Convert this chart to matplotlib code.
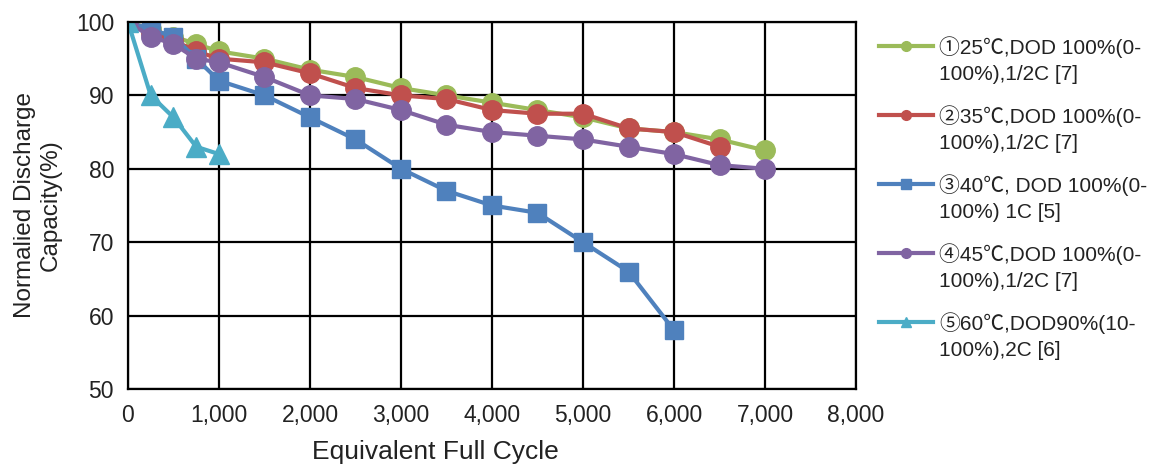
import numpy as np
import matplotlib
matplotlib.use('agg')
import matplotlib.pyplot as plt
from matplotlib.ticker import FuncFormatter, MultipleLocator
from matplotlib.legend_handler import HandlerLine2D

plt.rcParams['font.family'] = ['Liberation Sans', 'Noto Sans CJK SC', 'DejaVu Sans']

# data
x1 = [0, 250, 500, 750, 1000, 1500, 2000, 2500, 3000, 3500, 4000, 4500, 5000, 5500, 6000, 6500, 7000]
y1 = [100, 99, 98, 97, 96, 95, 93.5, 92.5, 91, 90, 89, 88, 87, 85.5, 85, 84, 82.5]

x2 = [0, 250, 500, 750, 1000, 1500, 2000, 2500, 3000, 3500, 4000, 4500, 5000, 5500, 6000, 6500]
y2 = [100, 98.5, 97.5, 96, 95, 94.5, 93, 91, 90, 89.5, 88, 87.5, 87.5, 85.5, 85, 83]

x3 = [0, 250, 500, 750, 1000, 1500, 2000, 2500, 3000, 3500, 4000, 4500, 5000, 5500, 6000]
y3 = [100, 99, 98, 95, 92, 90, 87, 84, 80, 77, 75, 74, 70, 66, 58]

x4 = [0, 250, 500, 750, 1000, 1500, 2000, 2500, 3000, 3500, 4000, 4500, 5000, 5500, 6000, 6500, 7000]
y4 = [100, 98, 97, 95, 94.5, 92.5, 90, 89.5, 88, 86, 85, 84.5, 84, 83, 82, 80.5, 80]

x5 = [0, 250, 500, 750, 1000]
y5 = [100, 90, 87, 83, 82]

labels = [
    '①25℃,DOD 100%(0-\n100%),1/2C [7]',
    '②35℃,DOD 100%(0-\n100%),1/2C [7]',
    '③40℃, DOD 100%(0-\n100%) 1C [5]',
    '④45℃,DOD 100%(0-\n100%),1/2C [7]',
    '⑤60℃,DOD90%(10-\n100%),2C [6]',
]


# legend handle sits level with the first text line, not the middle
class TopLineHandler(HandlerLine2D):
    def create_artists(self, legend, orig_handle, xdescent, ydescent,
                       width, height, fontsize, trans):
        arts = super().create_artists(legend, orig_handle, xdescent, ydescent,
                                      width, height, fontsize, trans)
        for a in arts:
            a.set_ydata(np.asarray(a.get_ydata()) + 10.5)
        return arts


fig = plt.figure(figsize=(11.56, 4.67), dpi=100)
ax = fig.add_axes([0.1107, 0.167, 0.6298, 0.786])

ax.plot(x1, y1, '-o', color='#9BBB59', lw=3, ms=14, label=labels[0])
ax.plot(x2, y2, '-o', color='#C0504D', lw=3, ms=14, label=labels[1])
ax.plot(x3, y3, '-s', color='#4F81BD', lw=3, ms=13.5, label=labels[2])
ax.plot(x4, y4, '-o', color='#8064A2', lw=3, ms=14, label=labels[3])
ax.plot(x5, y5, '-^', color='#4BACC6', lw=3, ms=14, label=labels[4])

ax.set_xlim(0, 8000)
ax.set_ylim(50, 100)
ax.xaxis.set_major_locator(MultipleLocator(1000))
ax.yaxis.set_major_locator(MultipleLocator(10))
ax.xaxis.set_major_formatter(FuncFormatter(lambda v, p: f'{int(v):,}'))
ax.grid(True, color='black', lw=1.6)
ax.set_axisbelow(True)
for s in ax.spines.values():
    s.set_color('black')
    s.set_linewidth(1.6)
ax.tick_params(length=0, labelsize=16.5, colors='#222222')
ax.tick_params(axis='y', pad=10)
ax.tick_params(axis='x', pad=11)

ax.set_xlabel('Equivalent Full Cycle', fontsize=19, color='#222222', va='center')
ax.xaxis.set_label_coords(0.4217, -0.172)
ax.set_ylabel('Normalied Discharge\nCapacity(%)', fontsize=17.5, color='#222222',
              labelpad=10, linespacing=1.25)

leg = ax.legend(loc='upper left', bbox_to_anchor=(1.02, 0.985), frameon=False,
                fontsize=15, markerscale=0.5, handlelength=2.6, handletextpad=0.3,
                labelspacing=1.0, borderaxespad=0,
                handler_map={plt.Line2D: TopLineHandler()})
for t in leg.get_texts():
    t.set_color('#222222')
    t.set_linespacing(1.5)

plt.savefig('out.png', dpi=100)
